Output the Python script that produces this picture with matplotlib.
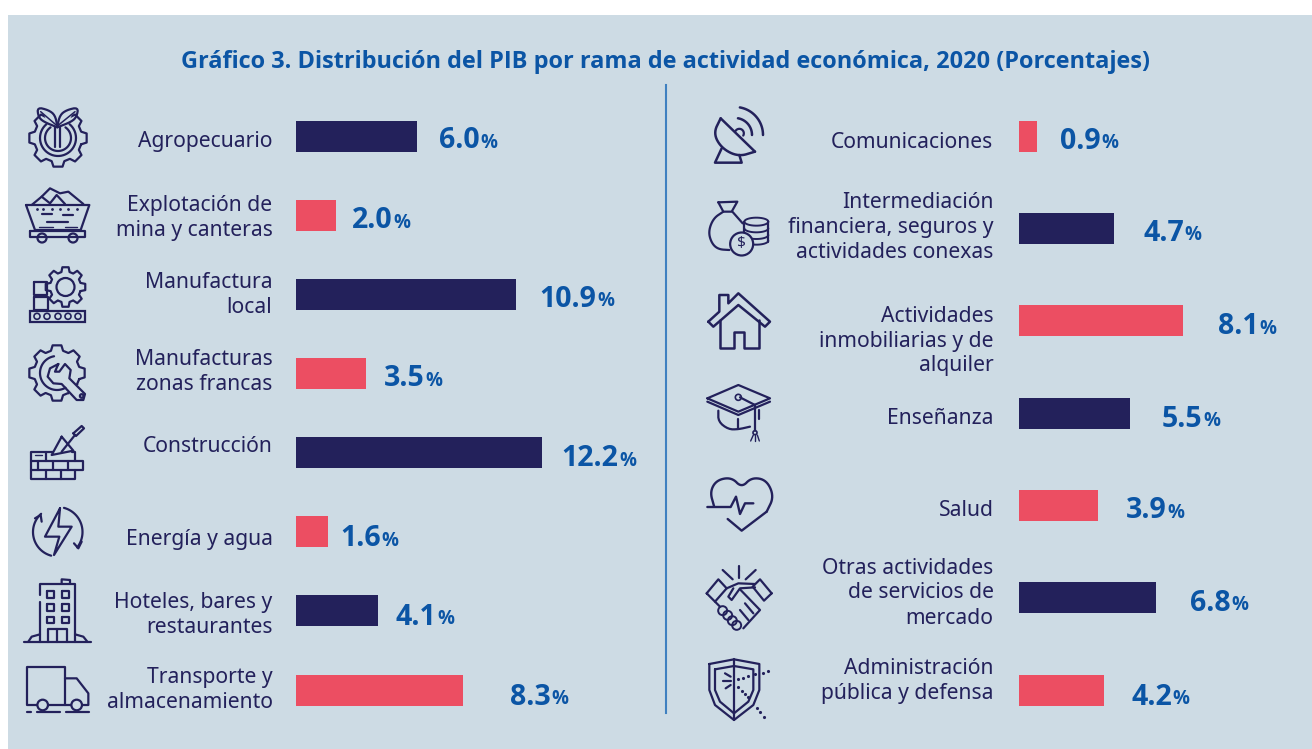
import matplotlib
matplotlib.use("Agg")
import matplotlib.pyplot as plt
from matplotlib.patches import Rectangle, Circle
import numpy as np

# data
left_labels = ["Agropecuario", "Explotación de\nmina y canteras", "Manufactura\nlocal",
               "Manufacturas\nzonas francas", "Construcción", "Energía y agua",
               "Hoteles, bares y\nrestaurantes", "Transporte y\nalmacenamiento"]
left_values = [6.0, 2.0, 10.9, 3.5, 12.2, 1.6, 4.1, 8.3]
right_labels = ["Comunicaciones", "Intermediación\nfinanciera, seguros y\nactividades conexas",
                "Actividades\ninmobiliarias y de\nalquiler", "Enseñanza", "Salud",
                "Otras actividades\nde servicios de\nmercado", "Administración\npública y defensa"]
right_values = [0.9, 4.7, 8.1, 5.5, 3.9, 6.8, 4.2]
title = "Gráfico 3. Distribución del PIB por rama de actividad económica, 2020 (Porcentajes)"

# layout in pixels, rows are not evenly spaced in the original
left_bar_y = [136.5, 215.5, 294.5, 373.5, 452.5, 531.5, 610.5, 690.5]
left_text_y = [142, 218, 295, 372, 447, 539, 615, 690]
left_val_x = [439, 352, 539, 384, 561, 340, 396, 510]
left_val_y = [137, 217, 296, 375, 455, 535, 614, 694]
right_bar_y = [136.5, 228.5, 320.5, 413.5, 505.5, 597.5, 690.5]
right_text_y = [142, 227, 341, 419, 511, 593, 681]
right_val_x = [1060, 1143, 1218, 1162, 1126, 1190, 1131]
right_val_y = [138, 230, 323, 416, 507, 600, 694]

NAVY = "#23215B"
RED = "#EC4E62"
BLUE = "#0B55A5"
BG = "#CDDBE4"
W, H = 1312, 749
PX = 20.2  # bar pixels per percentage point

plt.rcParams["font.family"] = ["Noto Sans", "DejaVu Sans"]

fig = plt.figure(figsize=(W / 100, H / 100), dpi=100, facecolor="white")
page = fig.add_axes([0, 0, 1, 1])
page.set_xlim(0, W)
page.set_ylim(H, 0)
page.axis("off")
page.add_patch(Rectangle((8, 15), W - 8, H - 15, fc=BG, ec="none"))


def line(pts, closed=False, lw=1.6, z=3.2):
    pts = list(pts)
    if closed:
        pts.append(pts[0])
    xs, ys = zip(*pts)
    page.plot(xs, ys, color=NAVY, lw=lw, solid_capstyle="round", solid_joinstyle="round", zorder=z)


def smooth(pts, n=3):
    # corner cutting, keeps the end points
    p = np.array(list(pts), dtype=float)
    for _ in range(n):
        q = 0.75 * p[:-1] + 0.25 * p[1:]
        r = 0.25 * p[:-1] + 0.75 * p[1:]
        p = np.vstack([p[0], np.column_stack([q, r]).reshape(-1, 2), p[-1]])
    return p


def zline(pts, x0, y0, closed=False, lw=1.6):
    line([(x0 + x / 3, y0 + y / 3) for x, y in pts], closed, lw)


def circ(x, y, r, lw=1.6):
    page.add_patch(Circle((x, y), r, fc="none", ec=NAVY, lw=lw, zorder=3.2))


def arc(x, y, r, a0, a1, lw=1.6):
    t = np.radians(np.linspace(a0, a1, 40))
    line(zip(x + r * np.cos(t), y - r * np.sin(t)), lw=lw)


def box(x0, y0, x1, y1, lw=1.6):
    line([(x0, y0), (x1, y0), (x1, y1), (x0, y1)], True, lw)


def gear(x, y, ro, ri, n=8, phase=0):
    pts = []
    step = 360 / n
    for i in range(n):
        a = phase + i * step
        for da, r in [(-0.34, ri), (-0.2, ro), (0.2, ro), (0.34, ri)]:
            t = np.radians(a + da * step)
            pts.append((x + r * np.cos(t), y - r * np.sin(t)))
    line(pts, True, z=3)


def icon_agro():
    gear(58, 138, 29, 24)
    page.add_patch(Circle((58, 112), 14, fc=BG, ec="none", zorder=3.1))
    O = (0, 90)
    zline(smooth([(172, 108), (165, 75), (145, 60), (112, 52), (115, 80), (130, 95), (172, 112)], 2), *O)
    zline(smooth([(172, 108), (180, 75), (200, 60), (235, 52), (230, 80), (215, 95), (172, 112)], 2), *O)
    zline([(122, 65), (172, 108), (225, 65)], *O, lw=1.1)
    zline([(165, 112), (165, 170)], *O)
    zline([(180, 112), (180, 170)], *O)
    arc(58, 138, 18, 130, 410)
    arc(58, 138, 13, 125, 415)


def icon_mine():
    O = (0, 90)
    zline([(78, 345), (268, 345), (242, 420), (105, 420)], *O, closed=True)
    zline([(90, 422), (255, 422), (255, 440), (90, 440)], *O, closed=True)
    zline([(95, 345), (125, 320), (150, 295), (180, 310), (205, 305), (250, 342)], *O)
    zline([(125, 320), (150, 340), (170, 315), (195, 342)], *O)
    zline([(125, 372), (155, 372)], *O)
    zline([(190, 376), (220, 376)], *O)
    zline([(140, 395), (205, 395)], *O)
    zline([(118, 412), (160, 412)], *O, lw=1)
    zline([(195, 412), (232, 412)], *O, lw=1)
    for z in [110, 130, 155, 180, 205, 232]:
        page.plot(z / 3, 90 + 358 / 3, ".", color=NAVY, ms=2, zorder=3)
    circ(42, 238, 4.5)
    circ(73, 238, 4.5)


def icon_factory():
    gear(65.5, 287, 20, 15.5)
    circ(65.5, 287, 9)
    box(33.5, 282, 47, 295)
    box(33.5, 297, 48, 310)
    page.add_patch(Rectangle((30, 310.5), 55, 11.5, fc="none", ec=NAVY, lw=1.6, zorder=3))
    for x in [37, 47, 58, 68, 78]:
        circ(x, 316.3, 3, lw=1.2)


def icon_wrench():
    gear(57, 373, 28, 23)
    page.add_patch(Circle((78, 394), 9, fc=BG, ec="none", zorder=3.1))
    arc(57, 373, 17, 100, 300)
    O = (0, 90)
    zline([(175, 822), (150, 835), (143, 860), (160, 880), (185, 882), (230, 930), (250, 930),
           (255, 912), (208, 865), (212, 840), (195, 822), (178, 845), (165, 845)], *O, closed=True)
    circ(81.7, 396, 1.8)


def icon_bricks():
    O = (0, 410)
    zline([(160, 125), (92, 125), (92, 152), (225, 152), (225, 125), (215, 125)], *O)
    zline([(92, 152), (92, 180), (248, 180), (248, 152), (225, 152)], *O)
    zline([(92, 180), (92, 208), (225, 208), (225, 180)], *O)
    for x, a, b in [(115, 152, 180), (160, 152, 180), (203, 152, 180), (138, 180, 208), (182, 180, 208), (138, 125, 152)]:
        zline([(x, a), (x, b)], *O)
    zline([(185, 80), (155, 135), (220, 122)], *O, closed=True)
    zline([(185, 125), (225, 75)], *O)
    zline([(220, 70), (245, 48), (252, 55), (228, 78)], *O, closed=True)
    zline([(105, 135), (125, 135)], *O, lw=1)


def icon_energy():
    O = (0, 410)
    zline([(180, 295), (135, 380), (178, 380), (162, 435), (215, 350), (175, 350)], *O, closed=True)
    arc(57.5, 532, 24.5, -105, -228)
    arc(57.5, 532, 25, 75, -38)
    zline([(105, 325), (122, 315), (125, 335)], *O)
    zline([(222, 400), (235, 415), (245, 395)], *O)


def icon_hotel():
    O = (0, 90 + 320)
    zline([(120, 555), (120, 522), (225, 522), (225, 695)], *O)
    zline([(120, 575), (120, 695)], *O)
    zline([(185, 520), (185, 508), (210, 510), (210, 520)], *O)
    for y in [543, 582, 620]:
        for x in [140, 185]:
            zline([(x, y), (x + 21, y), (x + 21, y + 20), (x, y + 20)], *O, closed=True)
    zline([(145, 695), (145, 658), (200, 658), (200, 695)], *O)
    zline([(172, 658), (172, 695)], *O)
    zline([(72, 697), (272, 697)], *O)
    zline([(85, 695), (95, 680), (120, 673)], *O)
    zline([(225, 673), (250, 680), (262, 695)], *O)


def icon_truck():
    O = (0, 410)
    zline([(112, 885), (80, 885), (80, 770), (195, 770), (195, 885), (145, 885)], *O)
    zline([(195, 805), (230, 805), (265, 850), (265, 885), (248, 885)], *O)
    zline([(195, 885), (212, 885)], *O)
    circ(128 / 3, 410 + 885 / 3, 5.3)
    circ(230 / 3, 410 + 885 / 3, 5.3)
    zline([(80, 907), (92, 907)], *O)
    zline([(110, 907), (180, 907)], *O)
    zline([(197, 907), (267, 907)], *O)


def icon_dish():
    O = (660, 90)
    zline([(182, 85), (285, 185)], *O, lw=1.8)
    zline(smooth([(182, 85), (160, 130), (185, 175), (235, 200), (285, 185)]), *O, lw=1.8)
    zline([(185, 175), (165, 218), (245, 218), (238, 195)], *O, lw=1.8)
    arc(660 + 238 / 3, 90 + 130 / 3, 4.5, -30, 150)
    arc(660 + 225 / 3, 90 + 135 / 3, 17, 0, 80, lw=1.8)
    arc(660 + 225 / 3, 90 + 135 / 3, 28, 0, 80, lw=1.8)


def icon_money():
    O = (660, 90)
    zline([(175, 337), (232, 335), (215, 365), (190, 365)], *O, closed=True)
    zline(smooth([(190, 365), (160, 385), (145, 425), (155, 460), (175, 478), (208, 480)]), *O)
    zline([(218, 366), (248, 400)], *O)
    t = np.linspace(0, np.pi, 20)
    for y in [395, 415, 435, 452]:
        zline(zip(289 + 36 * np.cos(t), y + 12 * np.sin(t)), *O, lw=1.4)
    zline(zip(289 + 36 * np.cos(t), 395 - 12 * np.sin(t)), *O, lw=1.4)
    zline([(253, 395), (253, 425)], *O)
    zline([(325, 395), (325, 455)], *O)
    page.add_patch(Circle((660 + 245 / 3, 90 + 462 / 3), 11.5, fc=BG, ec=NAVY, lw=1.6, zorder=3.3))
    page.text(660 + 245 / 3, 90 + 462 / 3, "$", color=NAVY, fontsize=11, ha="center", va="center", zorder=3.4)


def icon_house():
    O = (660, 90)
    zline([(145, 695), (178, 665), (178, 615), (205, 615), (205, 640), (235, 610), (330, 695), (315, 710), (235, 645), (160, 710)], *O, closed=True, lw=1.8)
    zline([(180, 690), (180, 775), (222, 775), (222, 725), (252, 725), (252, 775), (297, 775), (297, 690)], *O, lw=1.8)


def icon_cap():
    O = (660, 380)
    zline([(142, 55), (235, 15), (330, 55), (235, 95)], *O, closed=True)
    zline([(142, 65), (235, 105), (330, 65)], *O)
    zline(smooth([(175, 92), (175, 125), (205, 148), (235, 148), (270, 140)], 2), *O)
    zline([(298, 90), (298, 118)], *O)
    zline([(235, 148), (235, 118)], *O)
    zline([(240, 52), (285, 75), (285, 152)], *O)
    circ(660 + 235 / 3, 380 + 52 / 3, 3, lw=1.2)
    circ(660 + 285 / 3, 380 + 158 / 3, 2, lw=1.2)
    for a, b in [(272, 280), (285, 285), (298, 292)]:
        zline([(a, 183), (b, 165)], *O, lw=1)


def icon_heart():
    O = (660, 380)
    zline(smooth([(162, 378), (150, 335), (170, 300), (215, 292), (245, 323), (275, 292), (320, 300), (342, 350), (320, 395)], 3), *O, lw=1.7)
    zline([(320, 395), (245, 452), (203, 417)], *O, lw=1.7)
    zline([(142, 381), (212, 381), (228, 350), (240, 402), (255, 370), (280, 370)], *O, lw=1.7)


def icon_hands():
    O = (660, 380)
    zline([(237, 558), (237, 595)], *O)
    zline([(188, 570), (218, 598)], *O)
    zline([(287, 570), (257, 598)], *O)
    zline([(140, 640), (175, 598), (200, 625), (165, 665)], *O, closed=True)
    zline([(335, 640), (300, 598), (278, 620), (312, 662)], *O, closed=True)
    zline([(200, 625), (235, 610), (285, 612)], *O)
    zline([(285, 622), (240, 625), (215, 660), (205, 650), (220, 625)], *O)
    zline([(240, 628), (300, 690), (250, 745)], *O)
    zline([(165, 665), (180, 680)], *O)
    for x, y in [(188, 692), (203, 706), (217, 722), (230, 736)]:
        circ(660 + x / 3, 380 + y / 3, 4.5, lw=1.4)
    zline([(255, 670), (280, 700)], *O)
    zline([(240, 690), (265, 720)], *O)


def icon_shield():
    O = (660, 380)
    zline([(148, 852), (222, 838), (298, 852), (298, 930), (280, 975), (222, 1020), (165, 975), (148, 930)], *O, closed=True)
    zline([(165, 868), (222, 858), (280, 868), (280, 930), (265, 965), (222, 1000), (180, 965), (165, 930)], *O, closed=True)
    zline([(222, 838), (222, 1020)], *O)
    zline([(195, 880), (212, 890)], *O)
    zline([(190, 902), (212, 902)], *O)
    zline([(197, 925), (212, 915)], *O)
    for x, y in [(235, 898), (250, 893), (265, 888), (285, 883), (308, 878), (325, 874),
                 (235, 920), (245, 932), (255, 942), (265, 952), (290, 985), (300, 997), (311, 1010)]:
        page.plot(660 + x / 3, 380 + y / 3, ".", color=NAVY, ms=2.5, zorder=3)


for draw in [icon_agro, icon_mine, icon_factory, icon_wrench, icon_bricks, icon_energy, icon_hotel,
             icon_truck, icon_dish, icon_money, icon_house, icon_cap, icon_heart, icon_hands, icon_shield]:
    draw()

BOLD = ["Open Sans", "Noto Sans", "DejaVu Sans"]
page.text(665.5, 61.5, title, color=BLUE, fontsize=16.9, fontweight="bold", family=BOLD, ha="center", va="center")
page.plot([665.5, 665.5], [85, 713], color="#3F80C0", lw=1.5)


def panel(x0, labels, values, bar_y, text_y, val_x, val_y, text_x, colors):
    # bars on their own axes, x in percentage points, y in figure pixels
    ax = fig.add_axes([x0 / W, 0, 15 * PX / W, 1])
    ax.set_xlim(0, 15)
    ax.set_ylim(H, 0)
    ax.axis("off")
    ax.patch.set_alpha(0)
    ax.barh(bar_y, values, height=31, color=colors)
    renderer = fig.canvas.get_renderer()
    for lab, v, ty, vx, vy in zip(labels, values, text_y, val_x, val_y):
        page.text(text_x, ty, lab, color=NAVY, fontsize=15.2, ha="right", va="center",
                  multialignment="right", linespacing=1.25)
        t = page.text(vx, vy, f"{v:.1f}", color=BLUE, fontsize=20.5, fontweight="bold", family=BOLD,
                      ha="left", va="center_baseline")
        end = t.get_window_extent(renderer).x1
        page.text(end + 1, vy + 3, "%", color=BLUE, fontsize=13.5, fontweight="bold", family=BOLD,
                  ha="left", va="center_baseline")


panel(295.5, left_labels, left_values, left_bar_y, left_text_y, left_val_x, left_val_y, 272.5,
      [NAVY, RED, NAVY, RED, NAVY, RED, NAVY, RED])
panel(1019, right_labels, right_values, right_bar_y, right_text_y, right_val_x, right_val_y, 993.5,
      [RED, NAVY, RED, NAVY, RED, NAVY, RED])

fig.savefig("out.png", dpi=100, facecolor="white")
plt.close(fig)
